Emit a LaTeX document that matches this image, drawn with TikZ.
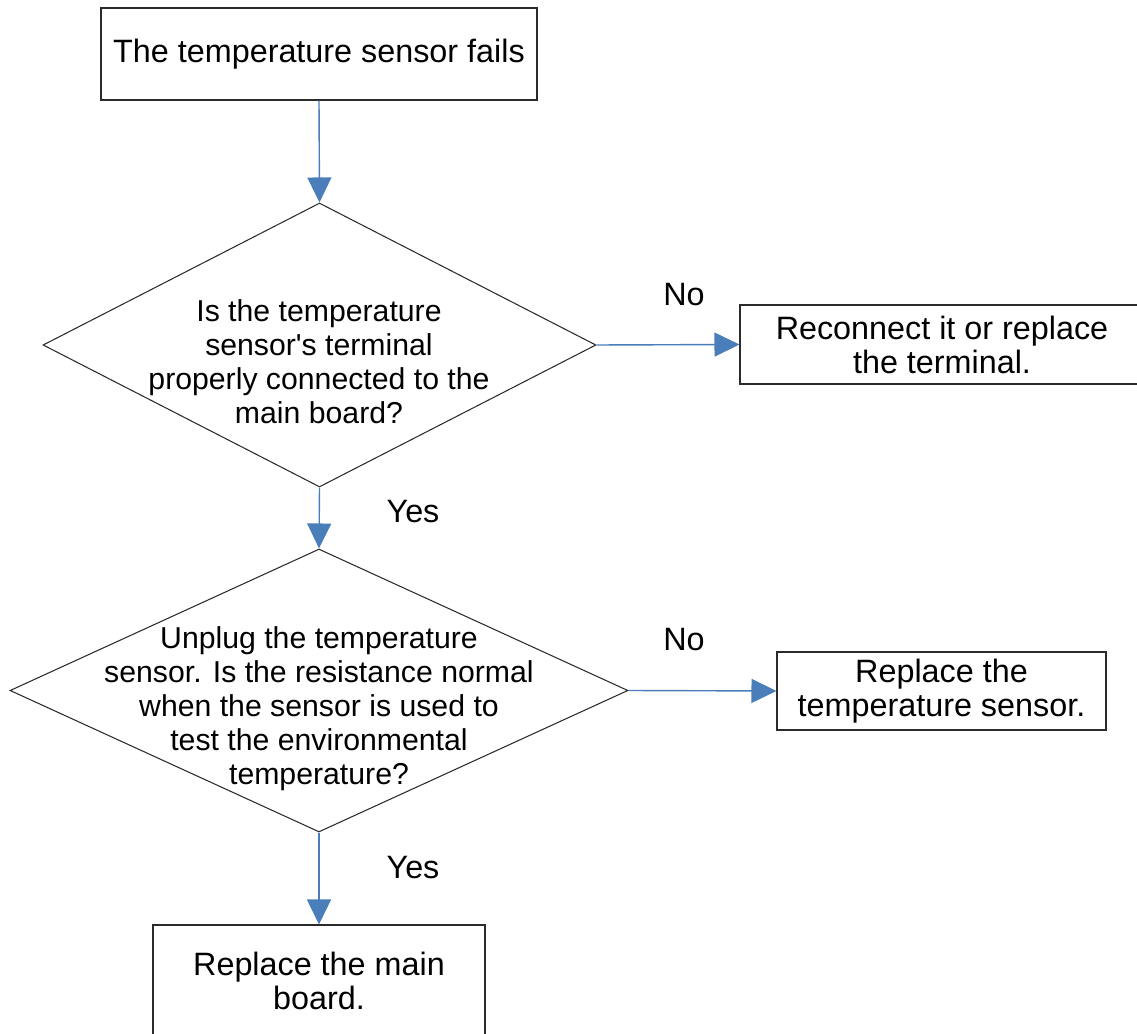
\documentclass[tikz,border=0pt]{standalone}
\usepackage{fontspec}
\setmainfont{Liberation Sans}
\usetikzlibrary{arrows.meta,shapes.geometric}
\usepackage{xcolor}
\definecolor{flowblue}{HTML}{4A7EBB}
\definecolor{dark}{HTML}{2B2B2B}
\tikzset{
  box/.style={draw=dark, line width=0.6pt, align=center, inner sep=0pt, font=\fontsize{18.4}{19.3}\selectfont},
  decision/.style={diamond, draw=dark, line width=0.6pt, inner sep=0pt},
  qtext/.style={align=center, inner sep=0pt, font=\fontsize{17.2}{19.3}\selectfont},
  answer/.style={inner sep=0pt, font=\fontsize{18.4}{19.3}\selectfont},
  arrow/.style={-{Triangle[length=5mm, width=4.8mm]}, line width=0.8pt, draw=flowblue}
}

\begin{document}
\begin{tikzpicture}
  \useasboundingbox (0,0) rectangle (22.74,-20.68);

  \node[box, minimum width=8.72cm, minimum height=1.84cm] (fail) at (6.38,-1.08) {The temperature sensor fails};

  \node[decision, minimum width=11.06cm, minimum height=5.68cm] (termq) at (6.39,-6.90) {};
  \node[qtext] (termqtext) at (6.38,-7.23) {Is the temperature\\sensor\textquotesingle s terminal\\properly connected to the\\main board?};
  \node[box, minimum width=8.08cm, minimum height=1.58cm] (reconnect) at (18.84,-6.89) {Reconnect it or replace\\the terminal.};

  \node[decision, minimum width=12.36cm, minimum height=5.66cm] (resq) at (6.38,-13.81) {};
  \node[qtext] (resqtext) at (6.38,-14.18) {Unplug the temperature\\sensor. Is the resistance normal\\when the sensor is used to\\test the environmental\\temperature?};
  \node[box, minimum width=6.58cm, minimum height=1.56cm] (sensor) at (18.83,-13.82) {Replace the\\temperature sensor.};

  \node[box, minimum width=6.64cm, minimum height=2.24cm] (board) at (6.38,-19.62) {Replace the main\\board.};

  \draw[arrow] (fail.south) -- (termq.north);
  \draw[arrow] (termq.east) -- (reconnect.west);
  \draw[arrow] (termq.south) -- (resq.north);
  \draw[arrow] (resq.east) -- (sensor.west);
  \draw[arrow] (resq.south) -- (board.north);

  \node[answer] (no1) at (13.68,-5.90) {No};
  \node[answer] (yes1) at (8.26,-10.24) {Yes};
  \node[answer] (no2) at (13.68,-12.80) {No};
  \node[answer] (yes2) at (8.26,-17.36) {Yes};
\end{tikzpicture}
\end{document}
